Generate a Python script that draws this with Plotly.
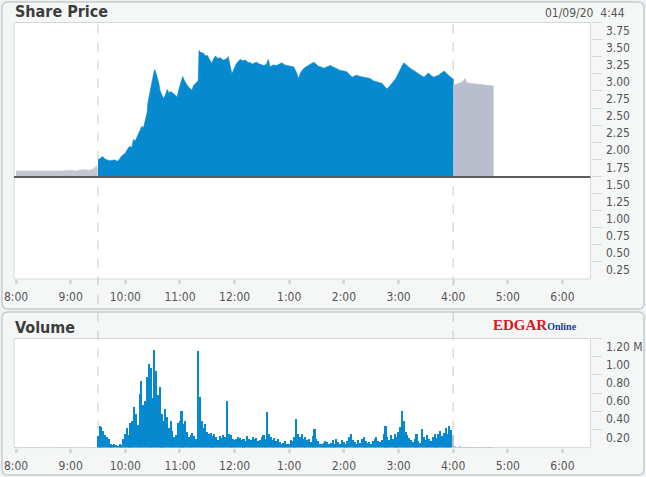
import plotly.graph_objects as go
import pandas as pd

DATE = "2020-01-09 "

# ---------------- data ----------------
prev_close = 1.49

pre_times = ["08:00", "08:10", "08:20", "08:30", "08:40", "08:50", "09:00", "09:05",
             "09:10", "09:15", "09:20", "09:25", "09:29"]
pre_price = [1.58, 1.58, 1.57, 1.58, 1.57, 1.58, 1.59, 1.58, 1.59, 1.60, 1.59, 1.61, 1.66]

reg_times = ["09:30", "09:35", "09:38", "09:43", "09:48", "09:52", "09:56", "10:00", "10:03", "10:05",
             "10:07", "10:09", "10:11", "10:13", "10:16", "10:18", "10:20", "10:22", "10:24", "10:25",
             "10:27", "10:29", "10:31", "10:32", "10:33", "10:35", "10:37", "10:38", "10:40", "10:42",
             "10:44", "10:46", "10:48", "10:50", "10:53", "10:55", "10:57", "10:59", "11:01", "11:03",
             "11:05", "11:06", "11:09", "11:11", "11:13", "11:15", "11:17", "11:19", "11:20", "11:21",
             "11:23", "11:26", "11:28", "11:30", "11:33", "11:35", "11:37", "11:39", "11:42", "11:44",
             "11:47", "11:50", "11:53", "11:55", "11:57", "12:00", "12:02", "12:04", "12:06", "12:09",
             "12:12", "12:15", "12:17", "12:19", "12:21", "12:24", "12:26", "12:29", "12:32", "12:35",
             "12:37", "12:39", "12:42", "12:46", "12:49", "12:52", "12:55", "12:58", "13:02", "13:05",
             "13:08", "13:10", "13:12", "13:14", "13:17", "13:20", "13:23", "13:27", "13:30", "13:32",
             "13:35", "13:38", "13:41", "13:45", "13:48", "13:51", "13:54", "13:56", "14:00", "14:03",
             "14:06", "14:09", "14:12", "14:14", "14:18", "14:22", "14:25", "14:29", "14:32", "14:36",
             "14:39", "14:42", "14:45", "14:47", "14:49", "14:51", "14:54", "14:57", "15:00", "15:02",
             "15:04", "15:06", "15:08", "15:11", "15:14", "15:17", "15:20", "15:22", "15:25", "15:28",
             "15:31", "15:33", "15:36", "15:39", "15:42", "15:44", "15:47", "15:50", "15:53", "15:57",
             "16:00"]
reg_price = [1.74, 1.79, 1.75, 1.73, 1.74, 1.72, 1.80, 1.84, 1.91, 1.94,
             1.92, 2.04, 2.02, 2.08, 2.18, 2.23, 2.21, 2.32, 2.44, 2.59,
             2.73, 2.88, 3.03, 3.06, 3.04, 2.95, 2.85, 2.76, 2.71, 2.64,
             2.69, 2.77, 2.72, 2.74, 2.71, 2.68, 2.66, 2.78, 2.86, 2.96,
             2.90, 2.88, 2.81, 2.79, 2.76, 2.83, 2.86, 2.88, 2.90, 3.34,
             3.31, 3.30, 3.26, 3.27, 3.20, 3.15, 3.22, 3.26, 3.22, 3.24,
             3.20, 3.21, 3.25, 3.12, 3.00, 3.09, 3.15, 3.18, 3.21, 3.19,
             3.20, 3.16, 3.17, 3.14, 3.15, 3.17, 3.15, 3.13, 3.12, 3.14,
             3.21, 3.10, 3.13, 3.12, 3.14, 3.16, 3.13, 3.12, 3.11, 3.10,
             3.02, 2.93, 3.00, 3.05, 3.09, 3.11, 3.14, 3.17, 3.14, 3.11,
             3.10, 3.08, 3.10, 3.12, 3.10, 3.08, 3.06, 3.05, 3.04, 3.03,
             2.99, 2.95, 2.97, 2.98, 2.96, 2.95, 2.94, 2.93, 2.90, 2.88,
             2.87, 2.86, 2.81, 2.78, 2.80, 2.83, 2.88, 2.93, 3.01, 3.08,
             3.12, 3.16, 3.13, 3.10, 3.07, 3.05, 3.02, 3.00, 2.97, 2.95,
             2.99, 3.01, 2.97, 2.95, 2.97, 2.98, 3.01, 3.04, 3.00, 2.95,
             2.92]

post_times = ["16:00", "16:05", "16:10", "16:13", "16:15", "16:20", "16:25", "16:30", "16:35",
              "16:40", "16:44"]
post_price = [2.83, 2.86, 2.88, 2.93, 2.87, 2.86, 2.85, 2.84, 2.83, 2.83, 2.82]

# volume in millions of shares
vol_pre_start, vol_pre_step = "08:00", "5min"
vol_pre = [0.010, 0.008, 0.010, 0.006, 0.010, 0.008, 0.010, 0.012, 0.008, 0.010,
           0.009, 0.010, 0.012, 0.010, 0.008, 0.010, 0.012, 0.015]

vol_reg_start, vol_reg_step = "09:30", "2min"
vol_reg = [0.13, 0.24, 0.23, 0.19, 0.14, 0.12, 0.10, 0.04, 0.03, 0.05,
           0.03, 0.02, 0.04, 0.03, 0.10, 0.16, 0.22, 0.14, 0.28, 0.30,
           0.45, 0.38, 0.25, 0.60, 0.74, 0.47, 0.52, 0.78, 0.93, 0.88,
           0.55, 1.08, 0.85, 0.58, 0.67, 0.38, 0.30, 0.43, 0.34, 0.22,
           0.30, 0.19, 0.12, 0.14, 0.28, 0.30, 0.41, 0.26, 0.30, 0.18,
           0.12, 0.14, 0.17, 0.13, 0.10, 1.07, 0.56, 0.30, 0.22, 0.26,
           0.18, 0.15, 0.17, 0.13, 0.16, 0.12, 0.09, 0.13, 0.11, 0.14,
           0.12, 0.52, 0.16, 0.14, 0.10, 0.09, 0.10, 0.12, 0.11, 0.09,
           0.10, 0.08, 0.13, 0.10, 0.09, 0.12, 0.10, 0.11, 0.08, 0.09,
           0.12, 0.14, 0.10, 0.40, 0.16, 0.12, 0.09, 0.11, 0.08, 0.10,
           0.07, 0.05, 0.06, 0.08, 0.04, 0.05, 0.09, 0.08, 0.12, 0.32,
           0.16, 0.12, 0.16, 0.10, 0.12, 0.09, 0.10, 0.07, 0.13, 0.21,
           0.10, 0.08, 0.05, 0.04, 0.06, 0.08, 0.07, 0.05, 0.06, 0.09,
           0.05, 0.10, 0.07, 0.05, 0.09, 0.07, 0.05, 0.08, 0.12, 0.16,
           0.09, 0.07, 0.05, 0.09, 0.06, 0.10, 0.12, 0.08, 0.06, 0.07,
           0.05, 0.08, 0.10, 0.12, 0.08, 0.07, 0.09, 0.15, 0.24, 0.12,
           0.09, 0.14, 0.10, 0.16, 0.12, 0.18, 0.23, 0.41, 0.30, 0.18,
           0.14, 0.11, 0.09, 0.07, 0.10, 0.16, 0.08, 0.06, 0.21, 0.12,
           0.09, 0.14, 0.10, 0.08, 0.12, 0.16, 0.11, 0.15, 0.19, 0.13,
           0.17, 0.22, 0.15, 0.24, 0.20]

vol_post_start, vol_post_step = "16:00", "2min"
vol_post = [0.14, 0.020, 0.015, 0.010, 0.020, 0.012, 0.010, 0.015, 0.010, 0.012,
            0.010, 0.015, 0.010, 0.012, 0.010, 0.010, 0.012, 0.010, 0.015, 0.010,
            0.010, 0.012]

hour_ticks = ["08:00", "09:00", "10:00", "11:00", "12:00", "13:00", "14:00", "15:00",
              "16:00", "17:00", "18:00"]
hour_labels = ["8:00", "9:00", "10:00", "11:00", "12:00", "1:00", "2:00", "3:00",
               "4:00", "5:00", "6:00"]
price_ticks = [0.25, 0.50, 0.75, 1.00, 1.25, 1.50, 1.75, 2.00, 2.25, 2.50, 2.75,
               3.00, 3.25, 3.50, 3.75]
vol_ticks = [0.2, 0.4, 0.6, 0.8, 1.0, 1.2]
vol_tick_labels = ["0.20", "0.40", "0.60", "0.80", "1.00", "1.20 M"]
session_marks = ["09:30", "16:00"]

# ---------------- layout helpers ----------------
W, H = 646, 477
BLUE = "#0689cf"
GRAY_PRE = "#c4c7cf"
GRAY_POST = "#b9becd"
FONT = "Liberation Sans Narrow, DejaVu Sans Condensed, Arial Narrow, Liberation Sans, Arial, sans-serif"
TXT = "#555555"


def ts(t):
    return pd.Timestamp(DATE + t)


def px(x):
    return x / W


def py(y):
    return 1 - y / H


def rrect_path(x0, y0, x1, y1, r):
    pts = [
        ("M", x0 + r, y0), ("L", x1 - r, y0), ("Q", x1, y0, x1, y0 + r),
        ("L", x1, y1 - r), ("Q", x1, y1, x1 - r, y1), ("L", x0 + r, y1),
        ("Q", x0, y1, x0, y1 - r), ("L", x0, y0 + r), ("Q", x0, y0, x0 + r, y0),
    ]
    s = ""
    for p in pts:
        if p[0] == "Q":
            s += f"Q{px(p[1])},{py(p[2])} {px(p[3])},{py(p[4])} "
        else:
            s += f"{p[0]}{px(p[1])},{py(p[2])} "
    return s + "Z"


def area(times, prices, color):
    x = [ts(t) for t in times]
    xs = x + [x[-1], x[0]]
    ys = list(prices) + [prev_close, prev_close]
    return go.Scatter(x=xs, y=ys, fill="toself", fillcolor=color, mode="lines",
                      line=dict(color=color, width=0.6), hoverinfo="skip",
                      showlegend=False, xaxis="x", yaxis="y")


def bars(start, step, vals, color, width_ms):
    x = pd.date_range(DATE + start, periods=len(vals), freq=step)
    return go.Bar(x=x, y=vals, marker=dict(color=color, line=dict(width=0)),
                  width=width_ms, showlegend=False, hoverinfo="skip",
                  xaxis="x2", yaxis="y2")


fig = go.Figure()
fig.add_trace(area(pre_times, pre_price, GRAY_PRE))
fig.add_trace(area(reg_times, reg_price, BLUE))
fig.add_trace(area(post_times, post_price, GRAY_POST))
fig.add_trace(bars(vol_pre_start, vol_pre_step, vol_pre, GRAY_PRE, 100000))
fig.add_trace(bars(vol_reg_start, vol_reg_step, vol_reg, BLUE, 105000))
fig.add_trace(bars(vol_post_start, vol_post_step, vol_post, GRAY_POST, 100000))

XDOM = [px(14), px(590.5)]
P_TOP, P_BOT = 22.5, 279
V_TOP, V_BOT = 338.5, 447.6
xrange_ = [DATE + "07:57:48", DATE + "18:30:46"]

xaxis_common = dict(
    domain=XDOM, range=xrange_, type="date", automargin=False,
    tickvals=[ts(t) for t in hour_ticks], ticktext=hour_labels,
    ticks="outside", ticklen=4, tickwidth=3, tickcolor="#d3d8d8",
    showgrid=False, zeroline=False, showline=False, fixedrange=True,
    tickfont=dict(family=FONT, size=12, color=TXT), ticklabelstandoff=3,
)
yaxis_common = dict(
    side="right", ticks="outside", ticklen=10, tickwidth=1, tickcolor="#d3d8d8",
    showgrid=False, zeroline=False, showline=False, fixedrange=True, automargin=False,
    tickfont=dict(family=FONT, size=12, color=TXT), ticklabelshift=8,
    ticklabelstandoff=2,
)

shapes = [
    dict(type="path", path=rrect_path(2, 2, 644, 309, 6), xref="paper", yref="paper",
         fillcolor="#f5f7f7", line=dict(color="#c6cdcd", width=1.5), layer="below"),
    dict(type="path", path=rrect_path(2, 312, 644, 475, 6), xref="paper", yref="paper",
         fillcolor="#f5f7f7", line=dict(color="#c6cdcd", width=1.5), layer="below"),
    dict(type="rect", xref="paper", yref="paper", x0=XDOM[0], x1=XDOM[1],
         y0=py(P_BOT), y1=py(P_TOP), fillcolor="white",
         line=dict(color="#d3d8d8", width=1), layer="below"),
    dict(type="rect", xref="paper", yref="paper", x0=XDOM[0], x1=XDOM[1],
         y0=py(V_BOT), y1=py(V_TOP), fillcolor="white",
         line=dict(color="#d3d8d8", width=1), layer="below"),
]
for t in session_marks:
    shapes.append(dict(type="line", xref="x", yref="paper", x0=ts(t), x1=ts(t),
                       y0=py(V_BOT), y1=py(P_TOP),
                       line=dict(color="#c3c7c7", width=1, dash="dash"), layer="below"))
shapes.append(dict(type="line", xref="x domain", yref="y", x0=0, x1=1,
                   y0=prev_close, y1=prev_close,
                   line=dict(color="#5c5c5c", width=2), layer="above"))

annotations = [
    dict(text="Share Price", x=px(13), y=py(11.5), xref="paper", yref="paper",
         xanchor="left", yanchor="middle", showarrow=False,
         font=dict(family=FONT, size=16, color="#3d3d3d", weight="bold")),
    dict(text="01/09/20  4:44", x=px(627), y=py(13.5), xref="paper", yref="paper",
         xanchor="right", yanchor="middle", showarrow=False,
         font=dict(family=FONT, size=12, color=TXT)),
    dict(text="Volume", x=px(13), y=py(327), xref="paper", yref="paper",
         xanchor="left", yanchor="middle", showarrow=False,
         font=dict(family=FONT, size=16, color="#3d3d3d", weight="bold")),
    dict(text="<span style='color:#e3121d'>EDGAR</span>"
              "<span style='color:#1b3f86;font-size:10px'>Online</span>",
         x=px(491), y=py(325), xref="paper", yref="paper",
         xanchor="left", yanchor="middle", showarrow=False,
         font=dict(family="Liberation Serif, DejaVu Serif, serif", size=15, weight="bold")),
]

fig.update_layout(
    width=W, height=H, margin=dict(l=0, r=0, t=0, b=0, autoexpand=False),
    paper_bgcolor="#eef2f2", plot_bgcolor="rgba(0,0,0,0)",
    showlegend=False, bargap=0, hovermode=False,
    xaxis=dict(anchor="y", **xaxis_common),
    xaxis2=dict(anchor="y2", matches="x", **xaxis_common),
    yaxis=dict(anchor="x", domain=[py(P_BOT), py(P_TOP)], range=[0, 3.75],
               tickvals=price_ticks, ticktext=[f"{v:.2f}" for v in price_ticks],
               **yaxis_common),
    yaxis2=dict(anchor="x2", domain=[py(V_BOT), py(V_TOP)], range=[0, 1.2],
                tickvals=vol_ticks, ticktext=vol_tick_labels, **yaxis_common),
    shapes=shapes, annotations=annotations,
)

fig.write_html("out.html", config={"displayModeBar": False},
               post_script="document.body.style.margin='0';")
